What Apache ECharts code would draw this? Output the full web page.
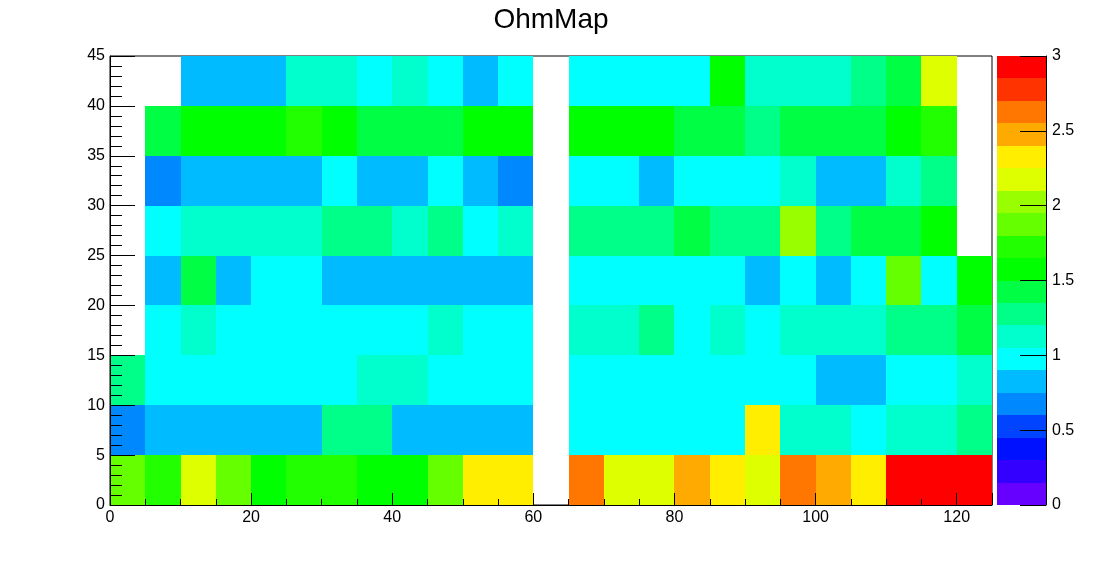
<!DOCTYPE html>
<html>
<head>
<meta charset="utf-8">
<script src="https://cdn.jsdelivr.net/npm/echarts@6/dist/echarts.min.js"></script>
<style>
html,body{margin:0;padding:0;background:#fff;}
#chart{width:1102px;height:562px;}
</style>
</head>
<body>
<div id="chart"></div>
<script>
// ---- data: x bins of width 5 from 0 to 125, y bins of width 5 from 0 to 45 ----
var xBinLow = [0,5,10,15,20,25,30,35,40,45,50,55,60,65,70,75,80,85,90,95,100,105,110,115,120];
var yBinLow = [0,5,10,15,20,25,30,35,40];
var binW = 5;
// values per y-row (null = empty bin)
var ohm_y00 = [1.88,1.72,2.17,1.88,1.57,1.72,1.72,1.57,1.57,1.88,2.33,2.33,null,2.62,2.17,2.17,2.48,2.33,2.17,2.62,2.48,2.33,2.95,2.95,2.95];
var ohm_y05 = [0.68,0.83,0.83,0.83,0.83,0.83,1.28,1.28,0.83,0.83,0.83,0.83,null,0.98,0.98,0.98,0.98,0.98,2.33,1.12,1.12,0.98,1.12,1.12,1.28];
var ohm_y10 = [1.28,0.98,0.98,0.98,0.98,0.98,0.98,1.12,1.12,0.98,0.98,0.98,null,0.98,0.98,0.98,0.98,0.98,0.98,0.98,0.83,0.83,0.98,0.98,1.12];
var ohm_y15 = [null,0.98,1.12,0.98,0.98,0.98,0.98,0.98,0.98,1.12,0.98,0.98,null,1.12,1.12,1.28,0.98,1.12,0.98,1.12,1.12,1.12,1.28,1.28,1.43];
var ohm_y20 = [null,0.83,1.43,0.83,0.98,0.98,0.83,0.83,0.83,0.83,0.83,0.83,null,0.98,0.98,0.98,0.98,0.98,0.83,0.98,0.83,0.98,1.88,0.98,1.57];
var ohm_y25 = [null,0.98,1.12,1.12,1.12,1.12,1.28,1.28,1.12,1.28,0.98,1.12,null,1.28,1.28,1.28,1.43,1.28,1.28,2.03,1.28,1.43,1.43,1.57,null];
var ohm_y30 = [null,0.68,0.83,0.83,0.83,0.83,0.98,0.83,0.83,0.98,0.83,0.68,null,0.98,0.98,0.83,0.98,0.98,0.98,1.12,0.83,0.83,1.12,1.28,null];
var ohm_y35 = [null,1.43,1.57,1.57,1.57,1.72,1.57,1.43,1.43,1.43,1.57,1.57,null,1.57,1.57,1.57,1.43,1.43,1.28,1.43,1.43,1.43,1.57,1.72,null];
var ohm_y40 = [null,null,0.83,0.83,0.83,1.12,1.12,0.98,1.12,0.98,0.83,0.98,null,0.98,0.98,0.98,0.98,1.57,1.12,1.12,1.12,1.28,1.43,2.17,null];
var rows = [ohm_y00,ohm_y05,ohm_y10,ohm_y15,ohm_y20,ohm_y25,ohm_y30,ohm_y35,ohm_y40];

// colour scale
var zMin = 0, zMax = 3;
var palette = ['#6600ff','#3300ff','#0011ff','#0044ff','#0088ff','#00bbff','#00ffff','#00ffcc','#00ff88','#00ff44',
               '#00ff00','#22ff00','#66ff00','#99ff00','#ddff00','#ffee00','#ffaa00','#ff7700','#ff3300','#ff0000'];

function colorOf(v){
  var n = palette.length;
  var k = Math.floor((v - zMin) / (zMax - zMin) * n);
  if (k < 0) k = 0; if (k > n-1) k = n-1;
  return palette[k];
}

var cells = [];
rows.forEach(function(r, j){
  r.forEach(function(v, i){
    if (v !== null) cells.push([xBinLow[i], yBinLow[j], v]);
  });
});
var levels = palette.map(function(c, k){
  var step = (zMax - zMin) / palette.length;
  return [zMin + k*step, zMin + (k+1)*step, k];
});

function snapRect(p0, p1){
  var xa = Math.round(p0[0]), xb = Math.round(p1[0]);
  var ya = Math.round(p1[1]), yb = Math.round(p0[1]);
  return {x:xa, y:ya, width:xb-xa, height:yb-ya};
}

var font = "'Liberation Sans', Arial, Helvetica, sans-serif";
var chart = echarts.init(document.getElementById('chart'), null, {renderer:'canvas'});
chart.setOption({
  backgroundColor:'#fff',
  animation:false,
  title:{text:'OhmMap', left:'center', top:1,
    textStyle:{fontFamily:font, fontSize:28, fontWeight:'normal', color:'#000'}},
  grid:[
    {left:110, top:56, width:882, height:449, show:true, borderColor:'#000', borderWidth:1, backgroundColor:'#fff', z:0},
    {left:997, top:56, width:49, height:449, show:false}
  ],
  xAxis:[
    {type:'value', gridIndex:0, min:0, max:125, interval:20, z:10,
      axisLine:{show:true, onZero:false, lineStyle:{color:'#000', width:1}},
      axisTick:{show:true, inside:true, length:12, lineStyle:{color:'#000'}},
      minorTick:{show:true, splitNumber:4, length:6, lineStyle:{color:'#000'}},
      splitLine:{show:false},
      axisLabel:{margin:5, fontFamily:font, fontSize:16, color:'#000',
        formatter:function(v){ return (v % 20 === 0) ? String(v) : ''; }}},
    {type:'value', gridIndex:1, min:0, max:1, show:false}
  ],
  yAxis:[
    {type:'value', gridIndex:0, min:0, max:45, interval:5, z:10,
      axisLine:{show:true, onZero:false, lineStyle:{color:'#000', width:1}},
      axisTick:{show:true, inside:true, length:25, lineStyle:{color:'#000'}},
      minorTick:{show:true, splitNumber:5, length:12, lineStyle:{color:'#000'}},
      splitLine:{show:false},
      axisLabel:{margin:5, fontFamily:font, fontSize:16, color:'#000'}},
    {type:'value', gridIndex:1, min:zMin, max:zMax, interval:0.5, position:'right', z:10,
      axisLine:{show:true, onZero:false, lineStyle:{color:'#000', width:1}},
      axisTick:{show:true, inside:true, length:26, lineStyle:{color:'#000'}},
      splitLine:{show:false},
      axisLabel:{margin:6, fontFamily:font, fontSize:16, color:'#000'}}
  ],
  series:[
    {type:'custom', xAxisIndex:0, yAxisIndex:0, data:cells, z:3,
      renderItem:function(params, api){
        var x0 = api.value(0), y0 = api.value(1), v = api.value(2);
        var p0 = api.coord([x0, y0]);
        var p1 = api.coord([x0 + binW, y0 + binW]);
        return {type:'rect', shape:snapRect(p0, p1),
          style:{fill:colorOf(v), stroke:null}};
      }},
    {type:'custom', xAxisIndex:1, yAxisIndex:1, data:levels, z:3,
      renderItem:function(params, api){
        var lo = api.value(0), hi = api.value(1), k = api.value(2);
        var p0 = api.coord([0, lo]);
        var p1 = api.coord([1, hi]);
        return {type:'rect', shape:snapRect(p0, p1),
          style:{fill:palette[k], stroke:null}};
      }}
  ]
});
</script>
</body>
</html>
